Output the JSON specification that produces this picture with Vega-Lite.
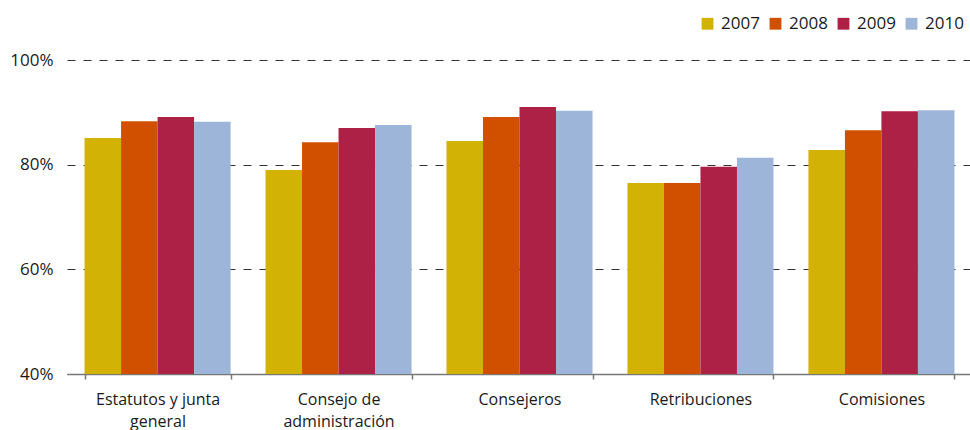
{
  "$schema": "https://vega.github.io/schema/vega-lite/v6.json",
  "width": 905,
  "height": 314,
  "autosize": {"type": "none"},
  "padding": {"left": 67, "top": 60, "right": 0, "bottom": 56},
  "background": "white",
  "config": {
    "font": "Open Sans",
    "view": {"stroke": null}
  },
  "data": {
    "values": [
      {"cat": "Estatutos y junta|general", "year": "2007", "v": 85.1},
      {"cat": "Estatutos y junta|general", "year": "2008", "v": 88.3},
      {"cat": "Estatutos y junta|general", "year": "2009", "v": 89.1},
      {"cat": "Estatutos y junta|general", "year": "2010", "v": 88.2},
      {"cat": "Consejo de|administración", "year": "2007", "v": 79.0},
      {"cat": "Consejo de|administración", "year": "2008", "v": 84.3},
      {"cat": "Consejo de|administración", "year": "2009", "v": 87.0},
      {"cat": "Consejo de|administración", "year": "2010", "v": 87.6},
      {"cat": "Consejeros", "year": "2007", "v": 84.5},
      {"cat": "Consejeros", "year": "2008", "v": 89.1},
      {"cat": "Consejeros", "year": "2009", "v": 91.0},
      {"cat": "Consejeros", "year": "2010", "v": 90.3},
      {"cat": "Retribuciones", "year": "2007", "v": 76.5},
      {"cat": "Retribuciones", "year": "2008", "v": 76.5},
      {"cat": "Retribuciones", "year": "2009", "v": 79.6},
      {"cat": "Retribuciones", "year": "2010", "v": 81.3},
      {"cat": "Comisiones", "year": "2007", "v": 82.8},
      {"cat": "Comisiones", "year": "2008", "v": 86.6},
      {"cat": "Comisiones", "year": "2009", "v": 90.2},
      {"cat": "Comisiones", "year": "2010", "v": 90.4}
    ]
  },
  "mark": {"type": "bar", "clip": true},
  "encoding": {
    "x": {
      "field": "cat",
      "type": "nominal",
      "sort": null,
      "scale": {"paddingInner": 0.193, "paddingOuter": 0.097},
      "axis": {
        "title": null,
        "labelAngle": 0,
        "labelExpr": "split(datum.label, '|')",
        "labelFontSize": 16,
        "labelColor": "#1a1a1a",
        "labelLineHeight": 22,
        "labelPadding": 12,
        "tickBand": "extent",
        "tickSize": 5,
        "tickColor": "#777",
        "domainColor": "#777",
        "domainWidth": 1.5,
        "tickWidth": 1.5
      }
    },
    "xOffset": {"field": "year", "type": "nominal", "scale": {"paddingInner": 0, "paddingOuter": 0}},
    "y": {
      "field": "v",
      "type": "quantitative",
      "scale": {"domain": [40, 100], "zero": false, "nice": false},
      "axis": {
        "title": null,
        "values": [40, 60, 80, 100],
        "labelExpr": "datum.value + '%'",
        "labelFontSize": 17,
        "labelColor": "#1a1a1a",
        "labelPadding": 14,
        "ticks": false,
        "domain": false,
        "grid": true,
        "gridColor": "#333",
        "gridDash": [8, 8],
        "gridWidth": 1
      }
    },
    "y2": {"datum": 40},
    "color": {
      "field": "year",
      "type": "nominal",
      "scale": {
        "domain": ["2007", "2008", "2009", "2010"],
        "range": ["#D3B206", "#D05000", "#AE2146", "#9DB5D8"]
      },
      "legend": {
        "title": null,
        "orient": "none",
        "legendX": 632,
        "legendY": -45,
        "direction": "horizontal",
        "symbolType": "square",
        "symbolSize": 140,
        "symbolStrokeWidth": 0,
        "labelFontSize": 17,
        "labelColor": "#1a1a1a",
        "labelOffset": 5,
        "columnPadding": 7,
        "padding": 0
      }
    }
  }
}
